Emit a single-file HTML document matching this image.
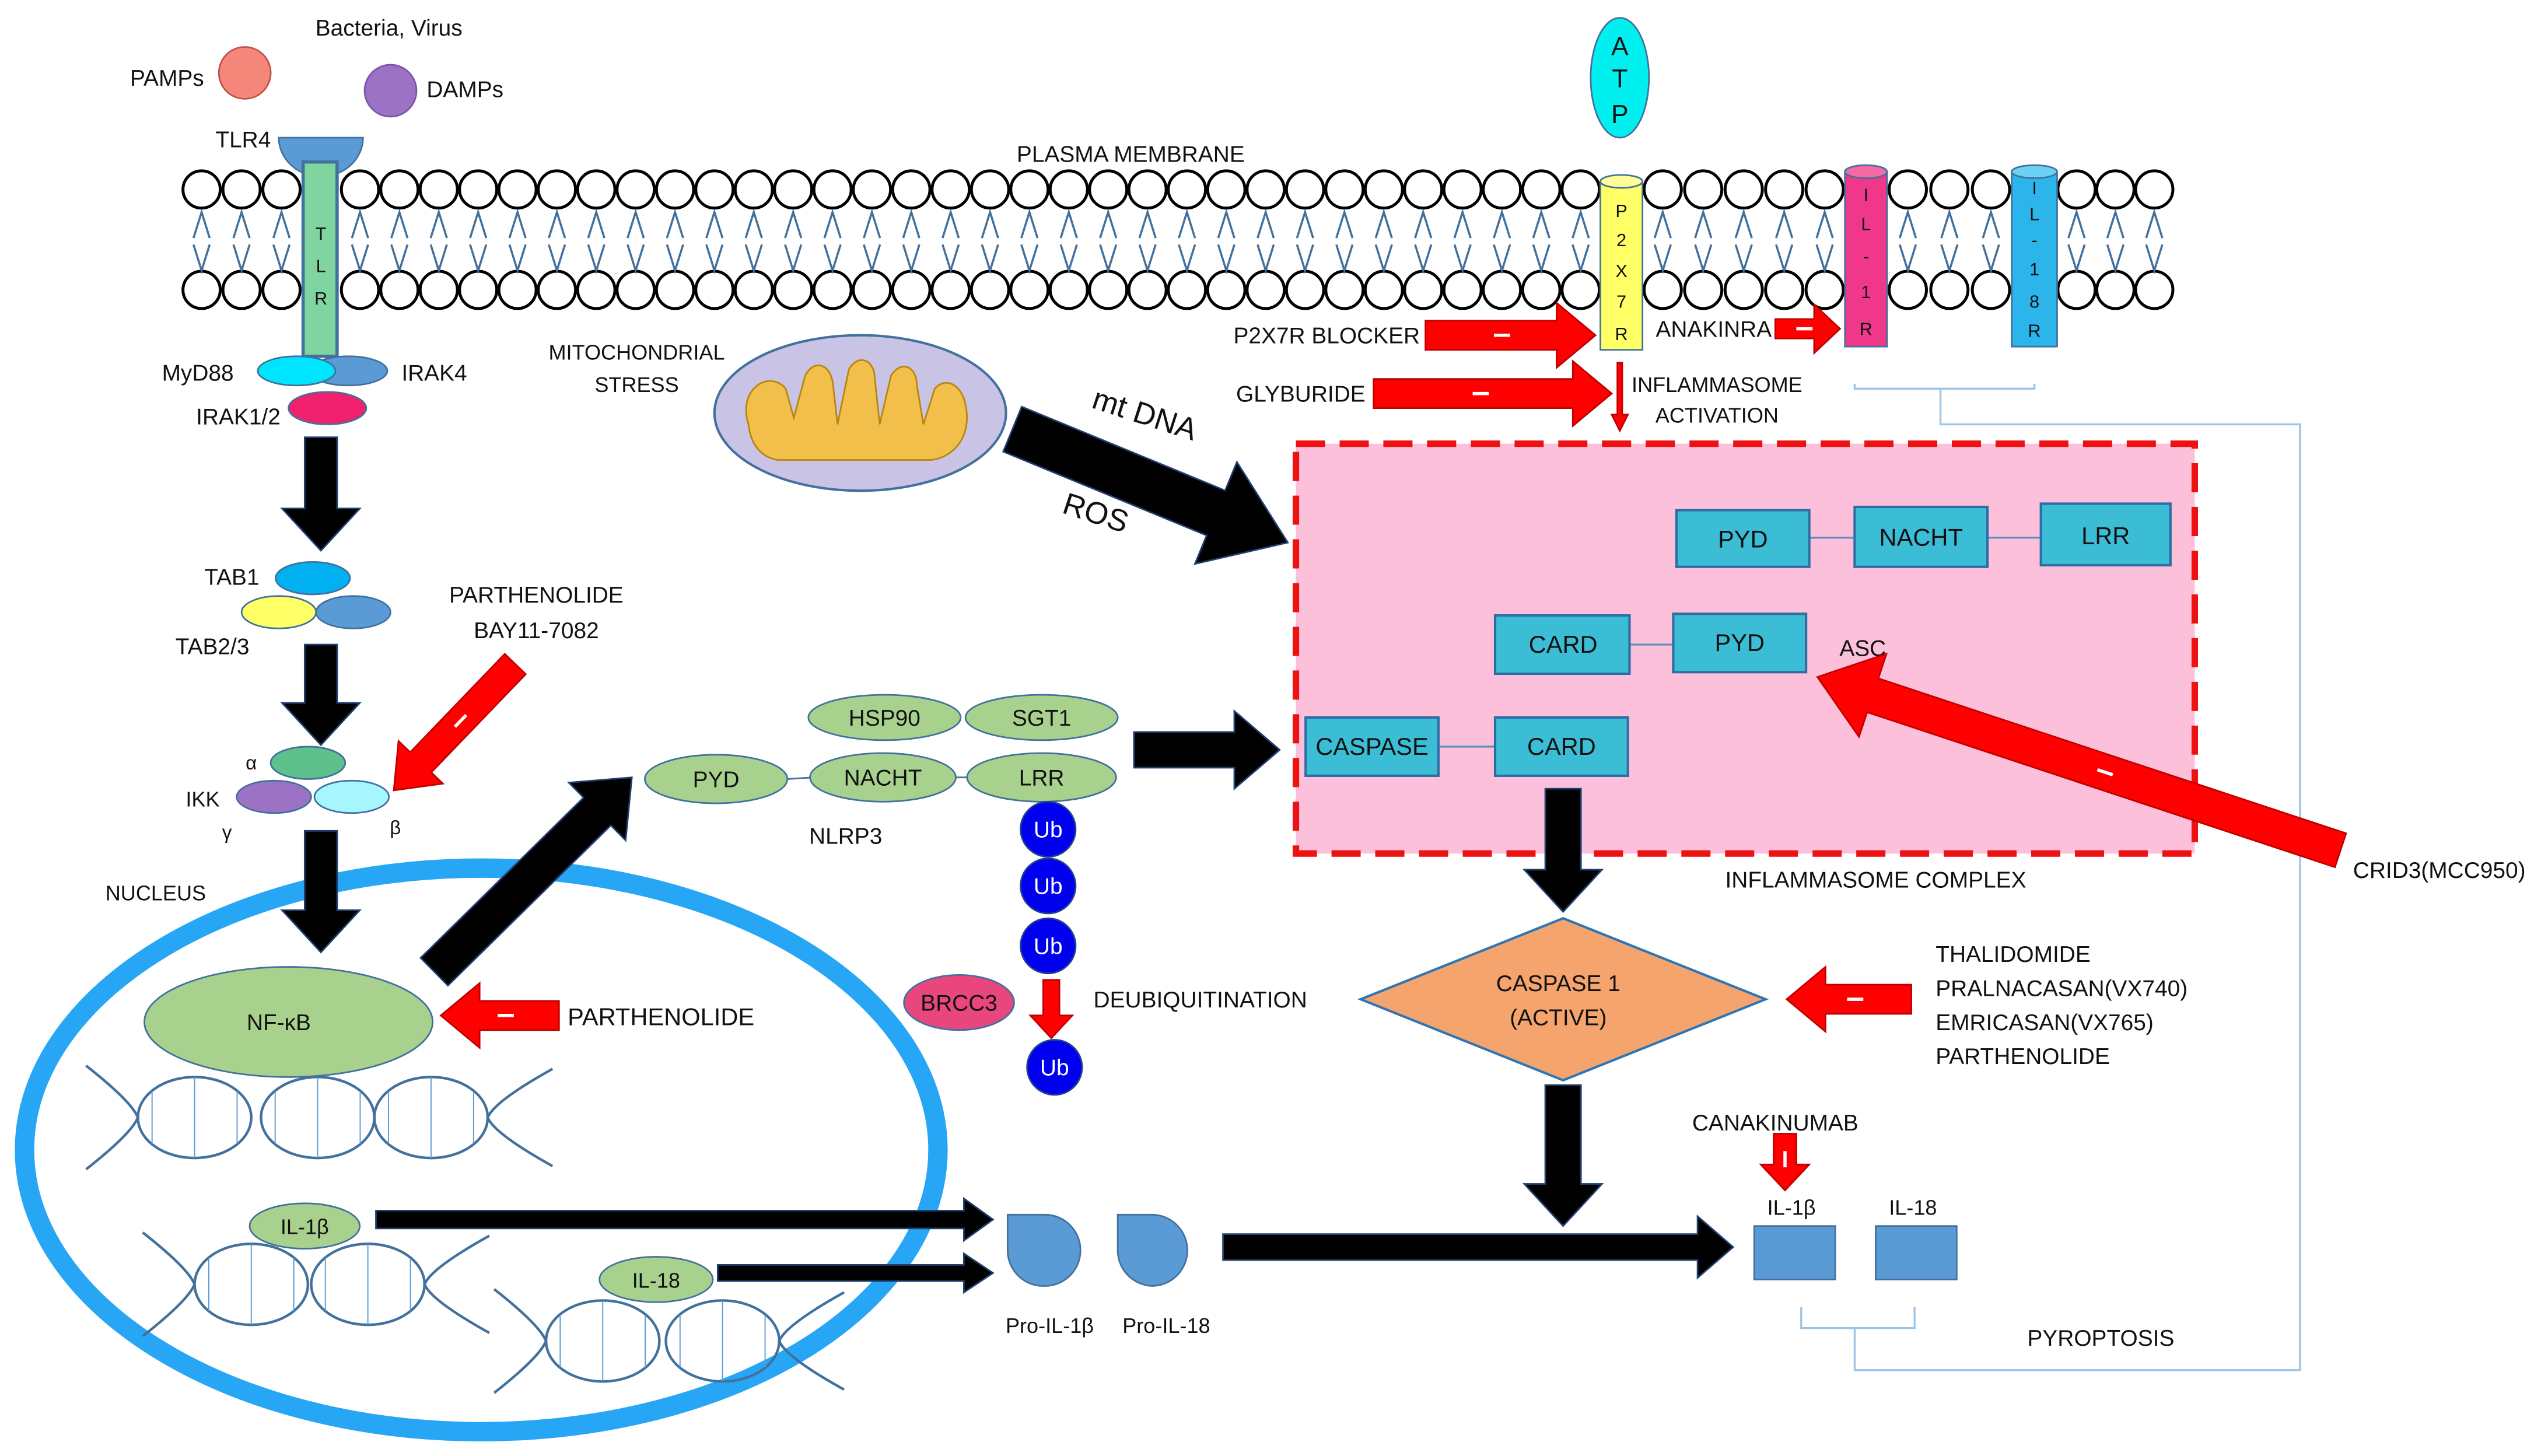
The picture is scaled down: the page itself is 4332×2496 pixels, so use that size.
<!DOCTYPE html>
<html><head><meta charset="utf-8"><style>
html,body{margin:0;padding:0;background:#fff}
svg{display:block}
text{font-family:"Liberation Sans",sans-serif;fill:#111}
</style></head><body>
<svg id="s" width="4332" height="2496" viewBox="0 0 1560 899" xmlns="http://www.w3.org/2000/svg">
<rect width="1560" height="899" fill="#fff"/>
<g id="mem"></g>
<polyline points="1145,237 1145,240 1256,240 1256,237" fill="none" stroke="#9dc3e6" stroke-width="1.2"/>
<polyline points="1198,240 1198,262 1420,262 1420,846 1145,846 1145,820" fill="none" stroke="#9dc3e6" stroke-width="1.2"/>
<polyline points="1112,807 1112,820 1182,820 1182,807" fill="none" stroke="#9dc3e6" stroke-width="1.2"/>

<text x="240" y="22" font-size="14" text-anchor="middle">Bacteria, Virus</text>
<text x="103" y="53" font-size="14" text-anchor="middle">PAMPs</text>
<circle cx="151" cy="45" r="16" fill="#f4877a" stroke="#c0504d"/>
<circle cx="241" cy="56" r="16" fill="#9b72c4" stroke="#7a55a8"/>
<text x="287" y="60" font-size="14" text-anchor="middle">DAMPs</text>
<text x="150" y="91" font-size="14" text-anchor="middle">TLR4</text>
<path d="M172,85 A26,24 0 0 0 224,85 Z" fill="#5b9bd5" stroke="#41719c"/>
<rect x="187" y="100" width="21" height="120" fill="#7fd4a0" stroke="#41719c" stroke-width="2"/>
<text x="198" y="148" font-size="11" text-anchor="middle">T</text>
<text x="198" y="168" font-size="11" text-anchor="middle">L</text>
<text x="198" y="188" font-size="11" text-anchor="middle">R</text>
<ellipse cx="215" cy="229" rx="24" ry="9" fill="#5b9bd5" stroke="#41719c"/>
<ellipse cx="183" cy="229" rx="24" ry="9" fill="#00e5ff" stroke="#41719c"/>
<ellipse cx="202" cy="252" rx="24" ry="10" fill="#f0206e" stroke="#41719c"/>
<text x="122" y="235" font-size="14" text-anchor="middle">MyD88</text>
<text x="268" y="235" font-size="14" text-anchor="middle">IRAK4</text>
<text x="147" y="262" font-size="14" text-anchor="middle">IRAK1/2</text>

<ellipse cx="193" cy="357" rx="23" ry="10" fill="#00b0f0" stroke="#41719c"/>
<ellipse cx="172" cy="378" rx="23" ry="10" fill="#ffff66" stroke="#41719c"/>
<ellipse cx="218" cy="378" rx="23" ry="10" fill="#5b9bd5" stroke="#41719c"/>
<text x="143" y="361" font-size="14" text-anchor="middle">TAB1</text>
<text x="131" y="404" font-size="14" text-anchor="middle">TAB2/3</text>
<text x="331" y="372" font-size="14" text-anchor="middle">PARTHENOLIDE</text>
<text x="331" y="394" font-size="14" text-anchor="middle">BAY11-7082</text>
<ellipse cx="190" cy="471" rx="23" ry="10" fill="#5ec08a" stroke="#41719c"/>
<ellipse cx="169" cy="492" rx="23" ry="10" fill="#9b72c4" stroke="#41719c"/>
<ellipse cx="217" cy="492" rx="23" ry="10" fill="#a6f5ff" stroke="#41719c"/>
<text x="155" y="475" font-size="12" text-anchor="middle">α</text>
<text x="125" y="498" font-size="13" text-anchor="middle">IKK</text>
<text x="140" y="518" font-size="12" text-anchor="middle">γ</text>
<text x="244" y="515" font-size="12" text-anchor="middle">β</text>
<text x="96" y="556" font-size="13" text-anchor="middle">NUCLEUS</text>

<ellipse cx="297" cy="710" rx="282" ry="174" fill="none" stroke="#27a6f5" stroke-width="12"/>
<ellipse cx="178" cy="631" rx="89" ry="34" fill="#a9d18e" stroke="#41719c"/>
<text x="172" y="636" font-size="14" text-anchor="middle">NF-κB</text>
<text x="408" y="633" font-size="15" text-anchor="middle">PARTHENOLIDE</text>
<g id="dna" fill="none" stroke="#41719c" stroke-width="1.6"></g>
<ellipse cx="188" cy="757" rx="34" ry="14" fill="#a9d18e" stroke="#41719c"/>
<text x="188" y="762" font-size="13" text-anchor="middle">IL-1β</text>
<ellipse cx="405" cy="790" rx="35" ry="14" fill="#a9d18e" stroke="#41719c"/>
<text x="405" y="795" font-size="13" text-anchor="middle">IL-18</text>

<path d="M622,750 L645,750 A22,22 0 0 1 645,794 A22,22 0 0 1 622,772 Z" fill="#5b9bd5" stroke="#41719c"/>
<path d="M690,750 L711,750 A22,22 0 0 1 711,794 A22,22 0 0 1 690,772 Z" fill="#5b9bd5" stroke="#41719c"/>
<text x="648" y="823" font-size="13" text-anchor="middle">Pro-IL-1β</text>
<text x="720" y="823" font-size="13" text-anchor="middle">Pro-IL-18</text>

<ellipse cx="546" cy="443" rx="47" ry="14" fill="#a9d18e" stroke="#41719c"/>
<ellipse cx="643" cy="443" rx="47" ry="14" fill="#a9d18e" stroke="#41719c"/>
<line x1="486" y1="481" x2="502" y2="480" stroke="#41719c"/>
<line x1="590" y1="480" x2="597" y2="480" stroke="#41719c"/>
<ellipse cx="442" cy="481" rx="44" ry="15" fill="#a9d18e" stroke="#41719c"/>
<ellipse cx="545" cy="480" rx="45" ry="15" fill="#a9d18e" stroke="#41719c"/>
<ellipse cx="643" cy="480" rx="46" ry="15" fill="#a9d18e" stroke="#41719c"/>
<text x="546" y="448" font-size="14" text-anchor="middle">HSP90</text>
<text x="643" y="448" font-size="14" text-anchor="middle">SGT1</text>
<text x="442" y="486" font-size="14" text-anchor="middle">PYD</text>
<text x="545" y="485" font-size="14" text-anchor="middle">NACHT</text>
<text x="643" y="485" font-size="14" text-anchor="middle">LRR</text>
<text x="522" y="521" font-size="14" text-anchor="middle">NLRP3</text>
<g fill="#0000ee" stroke="#1f3f8f"><circle cx="647" cy="512" r="17"/><circle cx="647" cy="547" r="17"/><circle cx="647" cy="584" r="17"/><circle cx="651" cy="659" r="17"/></g>
<g font-size="14" text-anchor="middle"><text x="647" y="517" style="fill:#fff">Ub</text><text x="647" y="552" style="fill:#fff">Ub</text><text x="647" y="589" style="fill:#fff">Ub</text><text x="651" y="664" style="fill:#fff">Ub</text></g>
<ellipse cx="592" cy="619" rx="34" ry="17" fill="#e8467c" stroke="#41719c"/>
<text x="592" y="624" font-size="14" text-anchor="middle">BRCC3</text>
<text x="741" y="622" font-size="14" text-anchor="middle">DEUBIQUITINATION</text>

<ellipse cx="531" cy="255" rx="90" ry="48" fill="#c9c3e6" stroke="#41719c" stroke-width="1.5"/>
<path d="M462,262 C455,240 475,228 485,240 L490,258 L497,232 C502,222 512,224 514,236 L517,262 L524,228 C530,218 540,222 540,234 L543,262 L550,232 C556,222 566,226 566,238 L570,262 L577,240 C584,232 594,238 596,250 C600,268 590,282 575,284 L480,284 C468,282 463,272 462,262 Z" fill="#f2c04a" stroke="#b8860b"/>
<text x="393" y="222" font-size="13" text-anchor="middle">MITOCHONDRIAL</text>
<text x="393" y="242" font-size="13" text-anchor="middle">STRESS</text>
<text x="706" y="262" font-size="19" text-anchor="middle" transform="rotate(18 706 258)">mt DNA</text>
<text x="676" y="323" font-size="19" text-anchor="middle" transform="rotate(18 676 318)">ROS</text>

<ellipse cx="1000" cy="48" rx="18" ry="37" fill="#00f0f0" stroke="#41719c"/>
<text x="1000" y="34" font-size="16" text-anchor="middle">A</text>
<text x="1000" y="54" font-size="16" text-anchor="middle">T</text>
<text x="1000" y="76" font-size="16" text-anchor="middle">P</text>
<rect x="988" y="112" width="26" height="104" fill="#ffff66" stroke="#41719c"/>
<ellipse cx="1001" cy="112" rx="13" ry="4" fill="#ffff99" stroke="#41719c"/>
<g font-size="11" text-anchor="middle"><text x="1001" y="134">P</text><text x="1001" y="152">2</text><text x="1001" y="171">X</text><text x="1001" y="190">7</text><text x="1001" y="210">R</text></g>
<rect x="1139" y="106" width="26" height="108" fill="#f0388a" stroke="#41719c"/>
<ellipse cx="1152" cy="106" rx="13" ry="4" fill="#f56aa5" stroke="#41719c"/>
<g font-size="11" text-anchor="middle"><text x="1152" y="124">I</text><text x="1152" y="142">L</text><text x="1152" y="162">-</text><text x="1152" y="184">1</text><text x="1152" y="207">R</text></g>
<rect x="1242" y="106" width="28" height="108" fill="#2cb5ea" stroke="#41719c"/>
<ellipse cx="1256" cy="106" rx="14" ry="4" fill="#6fd0f5" stroke="#41719c"/>
<g font-size="11" text-anchor="middle"><text x="1256" y="120">I</text><text x="1256" y="136">L</text><text x="1256" y="152">-</text><text x="1256" y="170">1</text><text x="1256" y="190">8</text><text x="1256" y="208">R</text></g>
<text x="698" y="100" font-size="14" text-anchor="middle">PLASMA MEMBRANE</text>
<text x="819" y="212" font-size="14" text-anchor="middle">P2X7R BLOCKER</text>
<text x="803" y="248" font-size="14" text-anchor="middle">GLYBURIDE</text>
<text x="1058" y="208" font-size="14" text-anchor="middle">ANAKINRA</text>
<text x="1060" y="242" font-size="13" text-anchor="middle">INFLAMMASOME</text>
<text x="1060" y="261" font-size="13" text-anchor="middle">ACTIVATION</text>

<rect x="800" y="274" width="555" height="253" fill="#fcc0da" stroke="#ee1111" stroke-width="4" stroke-dasharray="18,9"/>
<g stroke="#5b8fbf" stroke-width="1.2"><line x1="1117" y1="332" x2="1145" y2="332"/><line x1="1227" y1="332" x2="1260" y2="332"/><line x1="1006" y1="398" x2="1033" y2="398"/><line x1="888" y1="461" x2="923" y2="461"/></g>
<g fill="#3cbdd6" stroke="#2e6da4" stroke-width="1.5">
<rect x="1035" y="315" width="82" height="35"/><rect x="1145" y="313" width="82" height="37"/><rect x="1260" y="311" width="80" height="38"/>
<rect x="923" y="380" width="83" height="36"/><rect x="1033" y="379" width="82" height="36"/>
<rect x="806" y="443" width="82" height="36"/><rect x="923" y="443" width="82" height="36"/></g>
<g font-size="15" text-anchor="middle"><text x="1076" y="338">PYD</text><text x="1186" y="337">NACHT</text><text x="1300" y="336">LRR</text>
<text x="965" y="403">CARD</text><text x="1074" y="402">PYD</text><text x="847" y="466">CASPASE</text><text x="964" y="466">CARD</text></g>
<text x="1150" y="405" font-size="14" text-anchor="middle">ASC</text>
<text x="1158" y="548" font-size="14" text-anchor="middle">INFLAMMASOME COMPLEX</text>
<text x="1506" y="542" font-size="14" text-anchor="middle">CRID3(MCC950)</text>

<polygon points="965,567 1090,617 965,667 840,617" fill="#f4a46c" stroke="#2e75b6" stroke-width="1.5"/>
<text x="962" y="612" font-size="14" text-anchor="middle">CASPASE 1</text>
<text x="962" y="633" font-size="14" text-anchor="middle">(ACTIVE)</text>
<g font-size="14"><text x="1195" y="594">THALIDOMIDE</text><text x="1195" y="615">PRALNACASAN(VX740)</text><text x="1195" y="636">EMRICASAN(VX765)</text><text x="1195" y="657">PARTHENOLIDE</text></g>
<text x="1096" y="698" font-size="14" text-anchor="middle">CANAKINUMAB</text>
<text x="1106" y="750" font-size="13" text-anchor="middle">IL-1β</text>
<text x="1181" y="750" font-size="13" text-anchor="middle">IL-18</text>
<rect x="1083" y="757" width="50" height="33" fill="#5b9bd5" stroke="#41719c"/>
<rect x="1158" y="757" width="50" height="33" fill="#5b9bd5" stroke="#41719c"/>
<text x="1297" y="831" font-size="14" text-anchor="middle">PYROPTOSIS</text>
<g id="arr"></g>
</svg>
<script>
const NS="http://www.w3.org/2000/svg";
function el(p,t,a){const e=document.createElementNS(NS,t);for(const k in a)e.setAttribute(k,a[k]);p.appendChild(e);return e;}
const mem=document.getElementById('mem');
function lipid(x){
  el(mem,'circle',{cx:x,cy:117,r:11.5,fill:'#fff',stroke:'#000','stroke-width':1.8});
  el(mem,'circle',{cx:x,cy:179,r:11.5,fill:'#fff',stroke:'#000','stroke-width':1.8});
  el(mem,'polyline',{points:`${x-5},${147} ${x},${131} ${x+5},${147}`,fill:'none',stroke:'#41719c','stroke-width':1.3});
  el(mem,'polyline',{points:`${x-5},${151} ${x},${167} ${x+5},${151}`,fill:'none',stroke:'#41719c','stroke-width':1.3});
}
const segs=[[112,186],[210,988],[1014,1139],[1165,1242],[1270,1342]];
segs.forEach(([a,b])=>{const n=Math.max(1,Math.round((b-a)/24.3));const st=(b-a)/n;for(let i=0;i<n;i++)lipid(a+st*(i+0.5));});
const dna=document.getElementById('dna');
function helix(cs,cy,rx,ry){
  cs.forEach(cx=>{el(dna,'ellipse',{cx,cy,rx,ry});
    [-0.75,0,0.75].forEach(f=>el(dna,'line',{x1:cx+f*rx,y1:cy-ry*(f?0.65:1),x2:cx+f*rx,y2:cy+ry*(f?0.65:1),'stroke-width':0.7,stroke:'#5b9bd5'}));});
  const a=cs[0]-rx,b=cs[cs.length-1]+rx;
  el(dna,'path',{d:`M${a-32},${cy-32} Q${a-4},${cy-10} ${a},${cy} Q${a-4},${cy+10} ${a-32},${cy+32}`});
  el(dna,'path',{d:`M${b+40},${cy-30} Q${b+4},${cy-10} ${b},${cy} Q${b+4},${cy+10} ${b+40},${cy+30}`});
}
helix([120,196,266],690,35,25);
helix([155,227],793,35,25);
helix([372,446],828,35,25);
const g=document.getElementById('arr');
function arrow(x1,y1,x2,y2,w,hw,hl,fill,minus){
  const dx=x2-x1,dy=y2-y1,L=Math.hypot(dx,dy),ux=dx/L,uy=dy/L,px=-uy,py=ux;
  const bx=x2-ux*hl,by=y2-uy*hl;
  const p=[[x1+px*w/2,y1+py*w/2],[bx+px*w/2,by+py*w/2],[bx+px*hw/2,by+py*hw/2],[x2,y2],[bx-px*hw/2,by-py*hw/2],[bx-px*w/2,by-py*w/2],[x1-px*w/2,y1-py*w/2]];
  el(g,'polygon',{points:p.map(q=>q.join(',')).join(' '),fill,stroke:fill=='#000'?'#1f3f6f':'#c00000','stroke-width':1});
  if(minus){const mx=x1+dx*0.45,my=y1+dy*0.45;
    el(g,'line',{x1:mx-ux*5,y1:my-uy*5,x2:mx+ux*5,y2:my+uy*5,stroke:'#fff','stroke-width':2});}
}
const K='#000',R='#ff0000';
arrow(198,270,198,340,20,48,26,K);
arrow(198,398,198,460,20,48,26,K);
arrow(198,513,198,588,20,48,26,K);
arrow(268,600,390,480,24,50,30,K);
arrow(625,265,795,335,30,68,48,K);
arrow(700,463,790,463,22,48,28,K);
arrow(965,487,965,563,22,48,26,K);
arrow(965,670,965,757,22,48,26,K);
arrow(755,770,1070,770,16,38,22,K);
arrow(232,753,613,753,11,26,18,K);
arrow(443,786,613,786,10,24,18,K);
arrow(318,410,243,488,18,38,24,R,1);
arrow(345,627,272,627,18,40,24,R,1);
arrow(880,207,985,207,18,40,24,R,1);
arrow(848,243,995,243,18,40,24,R,1);
arrow(1096,203,1136,203,12,30,16,R,1);
arrow(1000,224,1000,266,3,10,10,R);
arrow(649,605,649,641,10,26,14,R);
arrow(1445,525,1122,418,22,54,36,R,1);
arrow(1180,617,1103,617,18,40,24,R,1);
arrow(1102,700,1102,735,14,30,16,R,1);
</script>
</body></html>
